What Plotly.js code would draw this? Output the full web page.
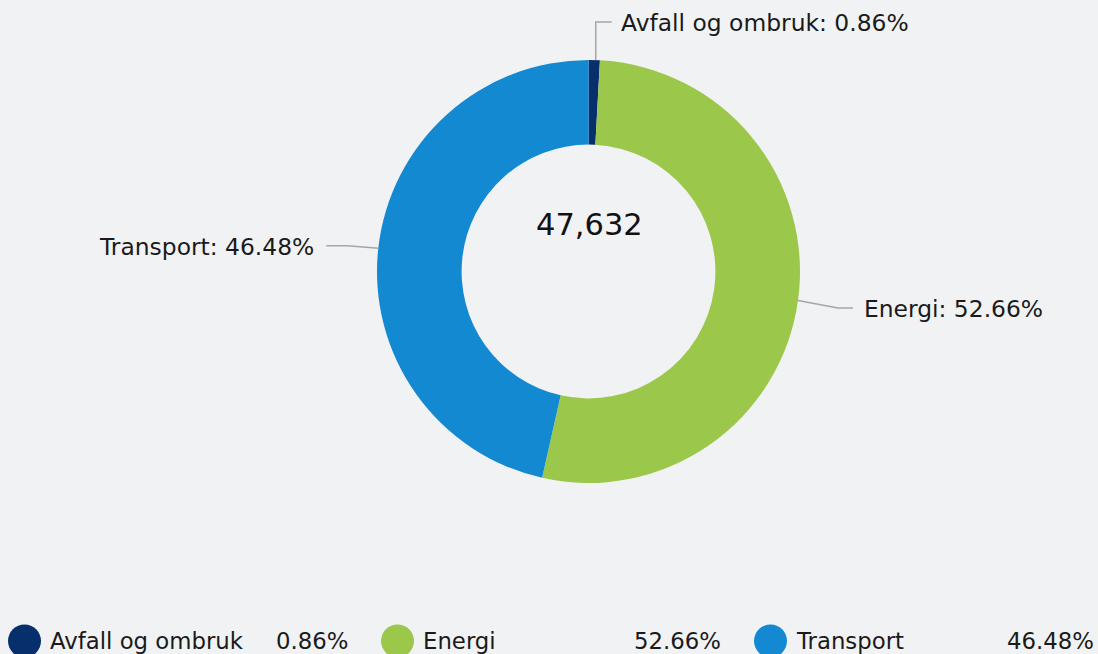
<!DOCTYPE html>
<html>
<head>
<meta charset="utf-8">
<script src="https://cdn.plot.ly/plotly-3.0.1.min.js"></script>
<style>
html,body{margin:0;padding:0;background:#f1f2f4;}
#chart{width:1098px;height:654px;}
</style>
</head>
<body>
<div id="chart"></div>
<script>
// ---- data ----
const categories = ['Avfall og ombruk', 'Energi', 'Transport'];
const values = [410, 25083, 22139];
const colors = ['#062f6b', '#9bc84a', '#1289d1'];

// ---- layout constants (pixels) ----
const W = 1098, H = 654;
const CX = 588.5, CY = 271.5, R = 211.5, HOLE = 0.6;
const FONT = 'DejaVu Sans, Verdana, sans-serif';
const TEXT_COLOR = '#1a1a1a';
const LINE_COLOR = '#a6a6a6';
const labelStyle = {
  'Avfall og ombruk': {mode: 'top', rise: 38, run: 16, gap: 7, shift: 1.5},
  'Energi': {mode: 'side', dy: 7.5, bend: 40, run: 15, gap: 9},
  'Transport': {mode: 'side', dy: -2.5, bend: 31, run: 21, gap: 10}
};

const px = x => x / W;
const py = y => 1 - y / H;

const total = values.reduce((a, b) => a + b, 0);
const pct = values.map(v => (v / total * 100).toFixed(2) + '%');

const shapes = [];
const annotations = [];

// connectors + outside labels computed from slice angles
let cum = 0;
values.forEach((v, i) => {
  const frac = v / total;
  const mid = (cum + frac / 2) * 2 * Math.PI;
  cum += frac;
  let ax = CX + R * Math.sin(mid);
  const ay = CY - R * Math.cos(mid);
  const st = labelStyle[categories[i]];
  const right = Math.sin(mid) >= 0;
  let pts, lx, ly;
  if (st.mode === 'top') {
    ax += st.shift;
    const ty = ay - st.rise;
    pts = [[ax, ay], [ax, ty], [ax + st.run, ty]];
    lx = ax + st.run + st.gap; ly = ty;
  } else {
    const s = right ? 1 : -1;
    ly = ay + st.dy;
    const bx = ax + s * st.bend;
    const ex = bx + s * st.run;
    pts = [[ax, ay], [bx, ly], [ex, ly]];
    lx = ex + s * st.gap;
  }
  const path = 'M ' + pts.map(p => px(p[0]) + ',' + py(p[1])).join(' L ');
  shapes.push({type: 'path', xref: 'paper', yref: 'paper', path: path,
    line: {color: LINE_COLOR, width: 1.5}});
  annotations.push({
    xref: 'paper', yref: 'paper', x: px(lx), y: py(ly + 1),
    xanchor: right ? 'left' : 'right', yanchor: 'middle',
    text: categories[i] + ': ' + pct[i], showarrow: false,
    font: {family: FONT, size: 23.4, color: TEXT_COLOR}
  });
});

// centre total
annotations.push({
  xref: 'paper', yref: 'paper', x: px(589.5), y: py(224),
  xanchor: 'center', yanchor: 'middle',
  text: total.toLocaleString('en-US'), showarrow: false,
  font: {family: FONT, size: 30.5, color: '#111111'}
});

// bottom legend (circles, names, percentages)
const LEG_X0 = 8, LEG_COL = 373, LEG_Y = 641, LEG_R = 16.5;
categories.forEach((c, i) => {
  const x0 = LEG_X0 + i * LEG_COL;
  shapes.push({type: 'circle', xref: 'paper', yref: 'paper',
    x0: px(x0), x1: px(x0 + 2 * LEG_R), y0: py(LEG_Y + LEG_R), y1: py(LEG_Y - LEG_R),
    fillcolor: colors[i], line: {width: 0}});
  annotations.push({xref: 'paper', yref: 'paper', x: px(x0 + 40), y: py(LEG_Y),
    xanchor: 'left', yanchor: 'middle', text: c, showarrow: false,
    font: {family: FONT, size: 22.8, color: TEXT_COLOR}});
  annotations.push({xref: 'paper', yref: 'paper', x: px(x0 + 342), y: py(LEG_Y),
    xanchor: 'right', yanchor: 'middle', text: pct[i], showarrow: false,
    font: {family: FONT, size: 22.8, color: TEXT_COLOR}});
});

const trace = {
  type: 'pie',
  labels: categories,
  values: values,
  hole: HOLE,
  sort: false,
  direction: 'clockwise',
  rotation: 0,
  marker: {colors: colors, line: {width: 0}},
  textinfo: 'none',
  hoverinfo: 'skip',
  showlegend: false,
  domain: {x: [px(CX - R), px(CX + R)], y: [py(CY + R), py(CY - R)]}
};

const layout = {
  width: W, height: H,
  margin: {l: 0, r: 0, t: 0, b: 0},
  paper_bgcolor: '#f1f2f4',
  plot_bgcolor: '#f1f2f4',
  showlegend: false,
  shapes: shapes,
  annotations: annotations
};

Plotly.newPlot('chart', [trace], layout, {displayModeBar: false, staticPlot: true});
</script>
</body>
</html>
